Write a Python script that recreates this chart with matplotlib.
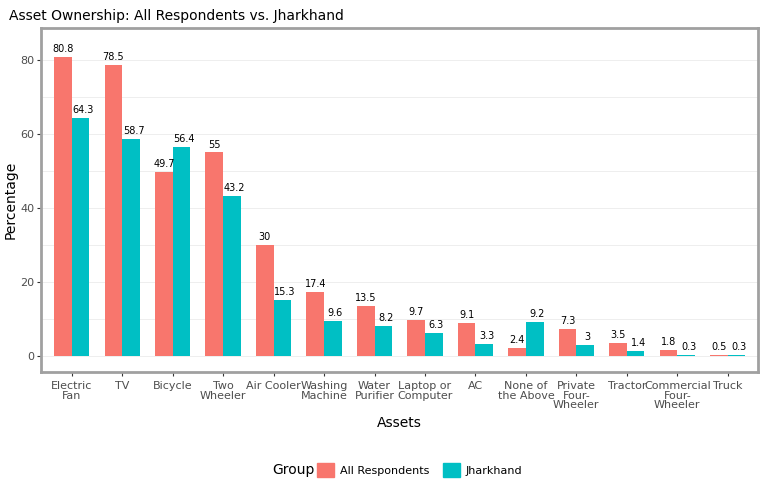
import numpy as np
import matplotlib.pyplot as plt
from matplotlib.patches import Patch

assets = ["Electric\nFan", "TV", "Bicycle", "Two\nWheeler", "Air Cooler", "Washing\nMachine",
          "Water\nPurifier", "Laptop or\nComputer", "AC", "None of\nthe Above", "Private\nFour-\nWheeler",
          "Tractor", "Commercial\nFour-\nWheeler", "Truck"]
all_resp = [80.8, 78.5, 49.7, 55, 30, 17.4, 13.5, 9.7, 9.1, 2.4, 7.3, 3.5, 1.8, 0.5]
jharkhand = [64.3, 58.7, 56.4, 43.2, 15.3, 9.6, 8.2, 6.3, 3.3, 9.2, 3, 1.4, 0.3, 0.3]
red, teal = "#F8766D", "#00BFC4"

fig = plt.figure(figsize=(7.68, 4.96), dpi=100)
ax = fig.add_axes([0.054, 0.25, 0.933, 0.693])
x = np.arange(len(assets))
w = 0.35
ax.bar(x - w / 2, all_resp, w, color=red)
ax.bar(x + w / 2, jharkhand, w, color=teal)
for i in x:
    ax.text(i - w / 2, all_resp[i] + 0.8, f"{all_resp[i]:g}", ha="center", va="bottom", fontsize=7)
    ax.text(i + w / 2 + 0.05, jharkhand[i] + 0.8, f"{jharkhand[i]:g}", ha="center", va="bottom", fontsize=7)

ax.set_xlim(-0.6, len(assets) - 0.4)
ax.set_ylim(-4.2, 88.5)
ax.set_yticks([0, 20, 40, 60, 80])
ax.set_yticks([10, 30, 50, 70], minor=True)
ax.grid(axis="y", which="both", color="#EBEBEB", linewidth=0.6)
ax.set_axisbelow(True)
ax.set_xticks(x)
ax.set_xticklabels(assets, fontsize=8, color="#4D4D4D", linespacing=0.95)
ax.tick_params(axis="y", labelsize=8, labelcolor="#4D4D4D", color="#333333", length=3, pad=2)
ax.tick_params(axis="y", which="minor", length=0)
ax.tick_params(axis="x", color="#333333", length=3)
for s in ax.spines.values():
    s.set_color("#A0A0A0")
    s.set_linewidth(2)
ax.set_xlabel("Assets", fontsize=10)
ax.set_ylabel("Percentage", fontsize=10, labelpad=2)
ax.set_title("Asset Ownership: All Respondents vs. Jharkhand", fontsize=10, loc="left", x=-0.045)

handles = [Patch(color=red, label="All Respondents"), Patch(color=teal, label="Jharkhand")]
fig.text(0.355, 0.052, "Group", fontsize=10, va="center")
fig.legend(handles=handles, loc="center left", bbox_to_anchor=(0.405, 0.052),
           ncol=2, frameon=False, fontsize=8, handlelength=1.6, handleheight=1.6,
           columnspacing=1.2, handletextpad=0.5, borderpad=0)
plt.savefig("out.png", dpi=100)
